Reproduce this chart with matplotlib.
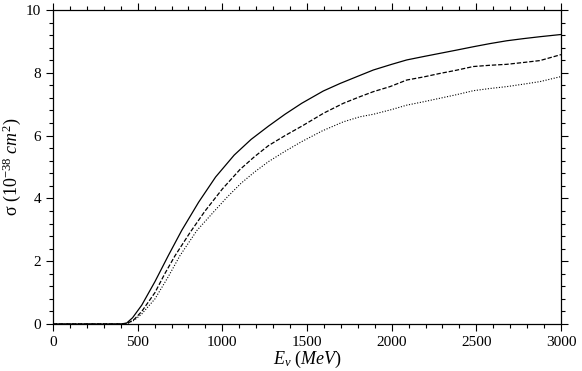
import matplotlib
matplotlib.use("Agg")
import matplotlib.pyplot as plt
from matplotlib.ticker import MultipleLocator

# Datos (E en MeV, sigma en 1e-38 cm^2)
energia_solida = [0, 400, 435, 470, 524, 602, 681, 760, 860, 960, 1070, 1170, 1272, 1370,
                  1469, 1596, 1695, 1800, 1892, 2000, 2089, 2190, 2285, 2380, 2482, 2580,
                  2679, 2780, 2876, 3000]
sigma_solida = [0, 0, 0.03, 0.2, 0.6, 1.35, 2.18, 2.98, 3.88, 4.68, 5.38, 5.88, 6.3, 6.68,
                7.03, 7.42, 7.66, 7.89, 8.09, 8.27, 8.41, 8.52, 8.62, 8.72, 8.83, 8.93,
                9.02, 9.09, 9.15, 9.22]

energia_guiones = [0, 400, 440, 480, 524, 602, 660, 720, 810, 898, 1000, 1104, 1190, 1272,
                   1370, 1469, 1600, 1715, 1813, 1892, 1990, 2089, 2190, 2285, 2380, 2482,
                   2580, 2679, 2780, 2876, 3000]
sigma_guiones = [0, 0, 0.02, 0.15, 0.4, 1.0, 1.6, 2.17, 2.92, 3.6, 4.3, 4.92, 5.33, 5.68,
                 6.0, 6.3, 6.72, 7.03, 7.24, 7.4, 7.56, 7.77, 7.87, 7.98, 8.08, 8.2, 8.24,
                 8.27, 8.33, 8.39, 8.58]

energia_puntos = [0, 400, 440, 480, 524, 602, 680, 750, 850, 957, 1030, 1110, 1190, 1272,
                  1370, 1469, 1590, 1715, 1813, 1892, 2000, 2089, 2190, 2285, 2380, 2482,
                  2580, 2679, 2780, 2876, 3000]
sigma_puntos = [0, 0, 0.02, 0.12, 0.32, 0.8, 1.5, 2.18, 2.98, 3.62, 4.05, 4.48, 4.84,
                5.17, 5.5, 5.81, 6.15, 6.44, 6.6, 6.68, 6.83, 6.97, 7.08, 7.19, 7.3, 7.43,
                7.5, 7.56, 7.64, 7.72, 7.88]

plt.rcParams['font.family'] = ['Liberation Serif', 'DejaVu Serif']
plt.rcParams['mathtext.fontset'] = 'custom'
plt.rcParams['mathtext.rm'] = 'Liberation Serif'
plt.rcParams['mathtext.it'] = 'Liberation Serif:italic'

fig = plt.figure(figsize=(5.82, 3.71), dpi=100)
ax = fig.add_axes([0.0911, 0.1267, 0.8728, 0.8463])

ax.plot(energia_solida, sigma_solida, color='black', linestyle='-', linewidth=0.9)
ax.plot(energia_guiones, sigma_guiones, color='black', linestyle=(0, (3.5, 1.5)), linewidth=0.9)
ax.plot(energia_puntos, sigma_puntos, color='black', linestyle=(0, (1, 1.5)), linewidth=0.8)

ax.set_xlim(0, 3000)
ax.set_ylim(0, 10)
ax.xaxis.set_major_locator(MultipleLocator(500))
ax.xaxis.set_minor_locator(MultipleLocator(100))
ax.yaxis.set_major_locator(MultipleLocator(2))
ax.yaxis.set_minor_locator(MultipleLocator(0.4))

ax.tick_params(which='both', direction='out', top=True, right=True, labelsize=11, width=0.8)
ax.tick_params(which='major', length=5)
ax.tick_params(which='minor', length=3)
for spine in ax.spines.values():
    spine.set_linewidth(0.9)

ax.set_xlabel(r'$\mathit{E}_{\nu}\ \mathit{(MeV)}$', fontsize=13, labelpad=0)
ax.set_ylabel(r'σ ($\mathit{10}^{-38}\ \mathit{cm}^{2}$)', fontsize=13, labelpad=2)

fig.savefig('out.png', dpi=100)
